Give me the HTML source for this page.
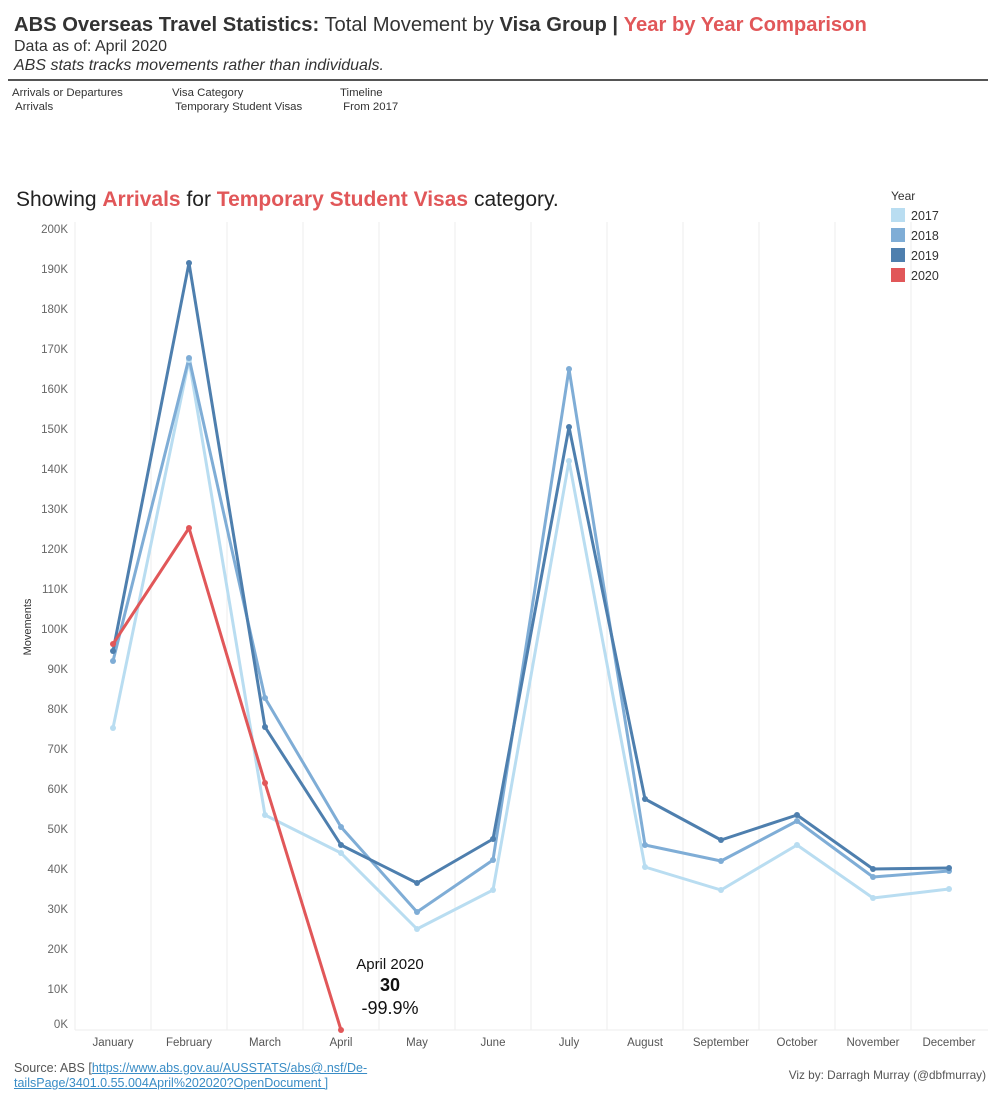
<!DOCTYPE html>
<html><head><meta charset="utf-8"><style>
body{margin:0;width:999px;height:1103px;background:#fff;font-family:"Liberation Sans",sans-serif;position:relative;overflow:hidden}
.a{position:absolute;white-space:nowrap}
</style></head><body>
<div class="a" style="left:14px;top:14px;font-size:20.2px;color:#333"><b>ABS Overseas Travel Statistics:</b> Total Movement by <b>Visa Group |</b> <b style="color:#e15759">Year by Year Comparison</b></div>
<div class="a" style="left:14px;top:38px;font-size:16px;color:#333">Data as of: April 2020</div>
<div class="a" style="left:14px;top:57px;font-size:16px;color:#333;font-style:italic">ABS stats tracks movements rather than individuals.</div>
<div class="a" style="left:8px;top:79px;width:980px;height:2px;background:#555"></div>
<div class="a" style="left:12px;top:86px;font-size:11.4px;color:#333;line-height:14px">Arrivals or Departures<br>&nbsp;Arrivals</div>
<div class="a" style="left:172px;top:86px;font-size:11.4px;color:#333;line-height:14px">Visa Category<br>&nbsp;Temporary Student Visas</div>
<div class="a" style="left:340px;top:86px;font-size:11.4px;color:#333;line-height:14px">Timeline<br>&nbsp;From 2017</div>
<div class="a" style="left:16px;top:188px;font-size:21px;color:#222">Showing <b style="color:#e15759">Arrivals</b> for <b style="color:#e15759">Temporary Student Visas</b> category.</div>
<div class="a" style="left:891px;top:189px;font-size:12px;color:#333">Year</div>
<div class="a" style="left:891px;top:206px;font-size:12.5px;color:#333;line-height:20px">
<div><span style="display:inline-block;width:14px;height:14px;background:#b9ddf1;vertical-align:-2px;margin-right:6px"></span>2017</div>
<div><span style="display:inline-block;width:14px;height:14px;background:#7fadd6;vertical-align:-2px;margin-right:6px"></span>2018</div>
<div><span style="display:inline-block;width:14px;height:14px;background:#4e7fae;vertical-align:-2px;margin-right:6px"></span>2019</div>
<div><span style="display:inline-block;width:14px;height:14px;background:#e15759;vertical-align:-2px;margin-right:6px"></span>2020</div></div>
<svg class="a" style="left:0;top:0" width="999" height="1103" font-family="Liberation Sans,sans-serif">
<g stroke="#eee" stroke-width="1">
<line x1="75" y1="222" x2="75" y2="1030"/>
<line x1="151" y1="222" x2="151" y2="1030"/><line x1="227" y1="222" x2="227" y2="1030"/><line x1="303" y1="222" x2="303" y2="1030"/><line x1="379" y1="222" x2="379" y2="1030"/><line x1="455" y1="222" x2="455" y2="1030"/><line x1="531" y1="222" x2="531" y2="1030"/><line x1="607" y1="222" x2="607" y2="1030"/><line x1="683" y1="222" x2="683" y2="1030"/><line x1="759" y1="222" x2="759" y2="1030"/><line x1="835" y1="222" x2="835" y2="1030"/><line x1="911" y1="222" x2="911" y2="1030"/>
<line x1="75" y1="1030" x2="988" y2="1030"/>
</g>
<g font-size="11.5" fill="#666" text-anchor="end">
<text x="68" y="233">200K</text><text x="68" y="273">190K</text><text x="68" y="313">180K</text><text x="68" y="353">170K</text><text x="68" y="393">160K</text><text x="68" y="433">150K</text><text x="68" y="473">140K</text><text x="68" y="513">130K</text><text x="68" y="553">120K</text><text x="68" y="593">110K</text><text x="68" y="633">100K</text><text x="68" y="673">90K</text><text x="68" y="713">80K</text><text x="68" y="753">70K</text><text x="68" y="793">60K</text><text x="68" y="833">50K</text><text x="68" y="873">40K</text><text x="68" y="913">30K</text><text x="68" y="953">20K</text><text x="68" y="993">10K</text><text x="68" y="1028">0K</text>
</g>
<text transform="translate(31,627) rotate(-90)" font-size="11" fill="#333" text-anchor="middle">Movements</text>
<g font-size="11.5" fill="#555" text-anchor="middle">
<text x="113" y="1046">January</text><text x="189" y="1046">February</text><text x="265" y="1046">March</text><text x="341" y="1046">April</text><text x="417" y="1046">May</text><text x="493" y="1046">June</text><text x="569" y="1046">July</text><text x="645" y="1046">August</text><text x="721" y="1046">September</text><text x="797" y="1046">October</text><text x="873" y="1046">November</text><text x="949" y="1046">December</text>
</g>
<g fill="none" stroke-width="3" stroke-linejoin="round">
<polyline stroke="#b9ddf1" points="113,728 189,360 265,815 341,853 417,929 493,890 569,461 645,867 721,890 797,845 873,898 949,889"/>
<polyline stroke="#7fadd6" points="113,661 189,358 265,698 341,827 417,912 493,860 569,369 645,845 721,861 797,821 873,877 949,871"/>
<polyline stroke="#4e7fae" points="113,651 189,263 265,727 341,845 417,883 493,839 569,427 645,799 721,840 797,815 873,869 949,868"/>
<polyline stroke="#e15759" points="113,644 189,528 265,783 341,1030"/>
</g>
<g fill="#b9ddf1"><circle cx="113" cy="728" r="3"/><circle cx="189" cy="360" r="3"/><circle cx="265" cy="815" r="3"/><circle cx="341" cy="853" r="3"/><circle cx="417" cy="929" r="3"/><circle cx="493" cy="890" r="3"/><circle cx="569" cy="461" r="3"/><circle cx="645" cy="867" r="3"/><circle cx="721" cy="890" r="3"/><circle cx="797" cy="845" r="3"/><circle cx="873" cy="898" r="3"/><circle cx="949" cy="889" r="3"/></g>
<g fill="#7fadd6"><circle cx="113" cy="661" r="3"/><circle cx="189" cy="358" r="3"/><circle cx="265" cy="698" r="3"/><circle cx="341" cy="827" r="3"/><circle cx="417" cy="912" r="3"/><circle cx="493" cy="860" r="3"/><circle cx="569" cy="369" r="3"/><circle cx="645" cy="845" r="3"/><circle cx="721" cy="861" r="3"/><circle cx="797" cy="821" r="3"/><circle cx="873" cy="877" r="3"/><circle cx="949" cy="871" r="3"/></g>
<g fill="#4e7fae"><circle cx="113" cy="651" r="3"/><circle cx="189" cy="263" r="3"/><circle cx="265" cy="727" r="3"/><circle cx="341" cy="845" r="3"/><circle cx="417" cy="883" r="3"/><circle cx="493" cy="839" r="3"/><circle cx="569" cy="427" r="3"/><circle cx="645" cy="799" r="3"/><circle cx="721" cy="840" r="3"/><circle cx="797" cy="815" r="3"/><circle cx="873" cy="869" r="3"/><circle cx="949" cy="868" r="3"/></g>
<g fill="#e15759"><circle cx="113" cy="644" r="3"/><circle cx="189" cy="528" r="3"/><circle cx="265" cy="783" r="3"/><circle cx="341" cy="1030" r="3"/></g>
<g text-anchor="middle" fill="#111"><text x="390" y="969" font-size="15">April 2020</text><text x="390" y="991" font-size="18" font-weight="bold">30</text><text x="390" y="1014" font-size="18">-99.9%</text></g>
</svg>
<div class="a" style="left:14px;top:1061px;font-size:12.5px;color:#555;line-height:15px">Source: ABS [<span style="color:#3a8dc6;text-decoration:underline">https://www.abs.gov.au/AUSSTATS/abs@.nsf/De-</span><br><span style="color:#3a8dc6;text-decoration:underline">tailsPage/3401.0.55.004April%202020?OpenDocument ]</span></div>
<div class="a" style="right:13px;top:1068px;font-size:11.8px;color:#555">Viz by: Darragh Murray (@dbfmurray)</div>
</body></html>
